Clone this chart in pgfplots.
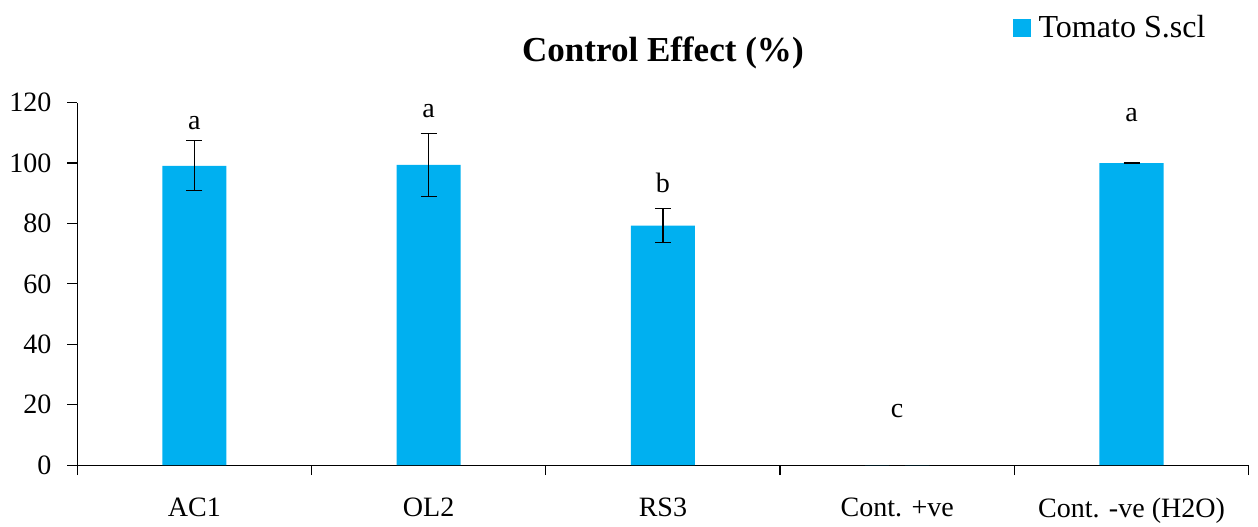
\documentclass[border=0pt]{standalone}
\usepackage{fontspec}
\setmainfont{Liberation Serif}
\usepackage{pgfplots}
\pgfplotsset{compat=1.18}
\definecolor{barblue}{HTML}{00B0F0}
\begin{document}
\fontsize{14}{16}\selectfont
\begin{tikzpicture}
\begin{axis}[
  width=585pt, height=181pt, scale only axis,
  xmin=-0.5, xmax=4.5, ymin=0, ymax=120,
  ytick={0,20,...,120},
  axis x line*=bottom, axis y line*=left,
  xtick={-0.5,0.5,1.5,2.5,3.5,4.5},
  xticklabels={},
  extra x ticks={0,1,2,3,4},
  extra x tick labels={AC1,OL2,RS3,{Cont. +ve},{Cont. -ve (H2O)}},
  extra x tick style={major tick length=0pt, xticklabel style={yshift=-11.5pt, text depth=0pt}},
  tick align=outside,
  major tick length=5pt,
  tick style={black, line width=0.6pt},
  axis line style={line width=0.6pt},
  yticklabel style={xshift=-3pt},
  /pgf/number format/assume math mode=true,
  title={\textbf{Control Effect (\%)}},
  title style={font=\fontsize{17.5}{20}\selectfont, yshift=6pt},
  legend style={draw=none, at={(0.972,1.265)}, anchor=north east, fill=none,
    legend cell align=left, font=\fontsize{16}{18}\selectfont},
  legend image code/.code={\fill[barblue] (0pt,-4.5pt) rectangle (9pt,4.5pt);},
  clip=false,
]
\addplot[ybar, bar width=32pt, fill=barblue, draw=none,
  error bars/.cd, y dir=both, y explicit,
  error bar style={black, line width=0.6pt},
  error mark options={black, rotate=90, mark size=4pt, line width=0.6pt}]
coordinates {
  (0,99.1) +- (0,8.3)
  (1,99.4) +- (0,10.4)
  (2,79.3) +- (0,5.6)
  (3,0) +- (0,0)
  (4,100) +- (0,0.2)
};
\addlegendentry{\hspace{2pt}Tomato S.scl}
\addplot[draw=none, mark=none, forget plot, point meta=explicit symbolic,
  nodes near coords, nodes near coords align={center},
  every node near coord/.append style={anchor=center}]
coordinates {
  (0,113.2) [a]
  (1,117.2) [a]
  (2,93.5) [b]
  (3,17.8) [c]
  (4,115.8) [a]
};
\end{axis}
\path ([yshift=3.5pt]current bounding box.north);
\end{tikzpicture}
\end{document}
